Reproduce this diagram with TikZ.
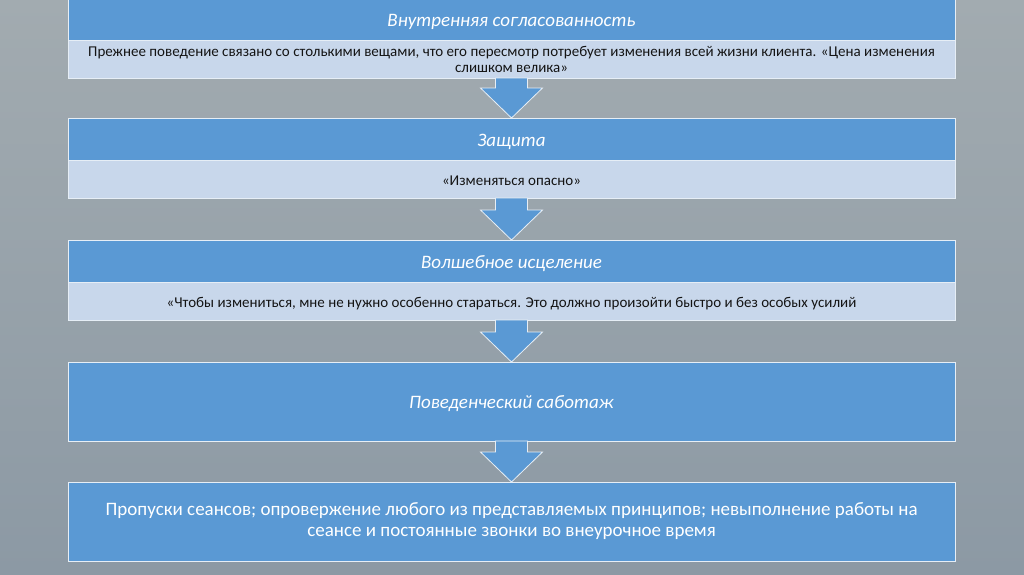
\documentclass[tikz,border=0pt]{standalone}
\usepackage{fontspec}
\setmainfont{Carlito}
\usetikzlibrary{positioning,calc}

\definecolor{hdrblue}{HTML}{5A99D4}
\definecolor{subblue}{HTML}{C8D7EB}
\definecolor{edgewhite}{HTML}{E6EEF6}
\definecolor{skytop}{HTML}{A2ABB0}
\definecolor{skymid}{HTML}{9AA5AC}
\definecolor{seabot}{HTML}{8C99A4}

\begin{document}
\begin{tikzpicture}[x=1pt, y=1pt, node distance=0pt]
	\tikzstyle{head} = [draw=edgewhite, line width=0.8pt, fill=hdrblue, text=white, minimum width=887pt, minimum height=42pt, inner sep=0pt, outer sep=0pt, text height=14pt, text depth=0pt, font=\fontsize{19}{22}\selectfont\itshape]
	\tikzstyle{body} = [draw=edgewhite, line width=0.8pt, fill=subblue, text=black!92, minimum width=887pt, minimum height=38pt, inner sep=0pt, outer sep=0pt, text height=12pt, text depth=0pt, align=center, font=\fontsize{15}{16}\selectfont]
	\tikzstyle{bigbox} = [head, minimum height=79pt]
	\tikzstyle{twolines} = [text height={}, text depth={}]
	\tikzstyle{blockarrow} = [draw=edgewhite, line width=0.8pt, fill=hdrblue]

	\useasboundingbox (0,0) rectangle (1024,-574);
	\shade[top color=skytop, middle color=skymid, bottom color=seabot] (0,0) rectangle (1024,-574);

	% boxes
	\node[head] (head1) at (511.5,-19) {Внутренняя согласованность};
	\node[body, twolines, below=of head1] (body1) {Прежнее поведение связано со столькими вещами, что его пересмотр потребует изменения всей жизни клиента. «Цена изменения\\слишком велика»};

	\node[head, below=40pt of body1] (head2) {Защита};
	\node[body, below=of head2] (body2) {«Изменяться опасно»};

	\node[head, below=42pt of body2] (head3) {Волшебное исцеление};
	\node[body, below=of head3] (body3) {«Чтобы измениться, мне не нужно особенно стараться. Это должно произойти быстро и без особых усилий};

	\node[bigbox, below=42pt of body3] (sabotage) {Поведенческий саботаж};
	\node[bigbox, below=41pt of sabotage, text height=30pt, font=\fontsize{19}{21}\selectfont, align=center] (result) {Пропуски сеансов; опровержение любого из представляемых принципов; невыполнение работы на\\сеансе и постоянные звонки во внеурочное время};

	% arrows
	\draw[blockarrow] (head2.north) -- ++(-31,30) -- ++(15,0) -- ($(body1.south)+(-16,0)$) -- ($(body1.south)+(16,0)$) -- ($(head2.north)+(16,30)$) -- ++(15,0) -- cycle;
	\draw[blockarrow] (head3.north) -- ++(-31,30) -- ++(15,0) -- ($(body2.south)+(-16,0)$) -- ($(body2.south)+(16,0)$) -- ($(head3.north)+(16,30)$) -- ++(15,0) -- cycle;
	\draw[blockarrow] (sabotage.north) -- ++(-31,30) -- ++(15,0) -- ($(body3.south)+(-16,0)$) -- ($(body3.south)+(16,0)$) -- ($(sabotage.north)+(16,30)$) -- ++(15,0) -- cycle;
	\draw[blockarrow] (result.north) -- ++(-31,30) -- ++(15,0) -- ($(sabotage.south)+(-16,0)$) -- ($(sabotage.south)+(16,0)$) -- ($(result.north)+(16,30)$) -- ++(15,0) -- cycle;
\end{tikzpicture}
\end{document}
